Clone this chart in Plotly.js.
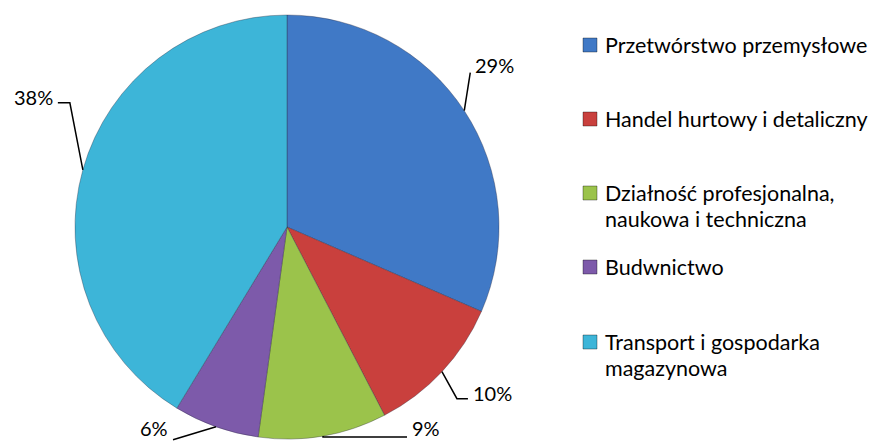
<!DOCTYPE html>
<html><head><meta charset="utf-8">
<script src="https://cdn.plot.ly/plotly-3.0.1.min.js"></script>
<style>html,body{margin:0;padding:0;background:#fff}</style>
</head><body><div id="chart" style="width:876px;height:441px"></div>
<script>
// ---- data ----
const categories = ["Przetwórstwo przemysłowe", "Handel hurtowy i detaliczny", "Działność profesjonalna,<br>naukowa i techniczna", "Budwnictwo", "Transport i gospodarka<br>magazynowa"];
const values = [29, 10, 9, 6, 38];
const valueLabels = values.map(v => v + '%');

// ---- style ----
const colors = ['#4079C6', '#C9403D', '#9BC34B', '#7D5AAA', '#3DB5D8'];
const W = 876, H = 441;
const FONT = 'Lato, "Open Sans", sans-serif';
const pie = {cx: 287, cy: 227, r: 212};
// leader line layout per slice: elbow offset from slice edge, horizontal run, text side
const leader = [
  {dx: 6, dy: -38, run: 0, side: 'left', tdy: -8},
  {dx: 15, dy: 27, run: 11, side: 'left', tdy: -6},
  {dx: 0, dy: 1, run: 84, side: 'left', tdy: -9},
  {dx: -43, dy: 13, run: 0, side: 'right', tdy: -12},
  {dx: -13, dy: -67, run: -12, side: 'right', tdy: -6}
];
const legendStyle = {x: 583, box: 14, gap: 6, ys: [45, 119, 193, 267, 342], font: 21.5, pitch: 26};

const px = x => x / W, py = y => 1 - y / H;
const total = values.reduce((a, b) => a + b, 0);

const shapes = [], annotations = [];
let cum = 0;
values.forEach((v, i) => {
  const mid = (cum + v / 2) / total * 2 * Math.PI;
  cum += v;
  const ex = pie.cx + pie.r * Math.sin(mid), ey = pie.cy - pie.r * Math.cos(mid);
  const L = leader[i];
  const bx = ex + L.dx, by = ey + L.dy;
  const endx = bx + L.run, endy = by;
  shapes.push({type: 'path', xref: 'paper', yref: 'paper',
    path: `M${px(ex)},${py(ey)} L${px(bx)},${py(by)} L${px(endx)},${py(endy)}`,
    line: {color: '#000', width: 1.5}});
  annotations.push({xref: 'paper', yref: 'paper', x: px(endx + (L.side === 'left' ? 3 : -3)), y: py(endy + L.tdy),
    xanchor: L.side, yanchor: 'middle', showarrow: false, text: valueLabels[i],
    font: {family: FONT, size: 20, color: '#000'}});
});

categories.forEach((c, i) => {
  const y = legendStyle.ys[i];
  const b = legendStyle.box;
  shapes.push({type: 'rect', xref: 'paper', yref: 'paper',
    x0: px(legendStyle.x), x1: px(legendStyle.x + b), y0: py(y - b / 2), y1: py(y + b / 2),
    fillcolor: colors[i], line: {color: 'rgba(0,0,0,0.35)', width: 1}});
  c.split('<br>').forEach((line, k) => {
    annotations.push({xref: 'paper', yref: 'paper', x: px(legendStyle.x + b + legendStyle.gap),
      y: py(y + k * legendStyle.pitch), xanchor: 'left', yanchor: 'middle', align: 'left',
      showarrow: false, text: line,
      font: {family: FONT, size: legendStyle.font, color: '#000'}});
  });
});

const trace = {
  type: 'pie', values: values, labels: categories.map(c => c.replace('<br>', ' ')),
  marker: {colors: colors, line: {color: 'rgba(40,40,60,0.35)', width: 1}},
  sort: false, direction: 'clockwise', rotation: 0,
  textinfo: 'none', hoverinfo: 'label+value', showlegend: false,
  domain: {x: [px(pie.cx - pie.r), px(pie.cx + pie.r)], y: [py(pie.cy + pie.r), py(pie.cy - pie.r)]}
};

Plotly.newPlot('chart', [trace], {
  width: W, height: H, margin: {l: 0, r: 0, t: 0, b: 0},
  paper_bgcolor: '#fff', showlegend: false, shapes: shapes, annotations: annotations
}, {displayModeBar: false, staticPlot: true});
</script></body></html>
